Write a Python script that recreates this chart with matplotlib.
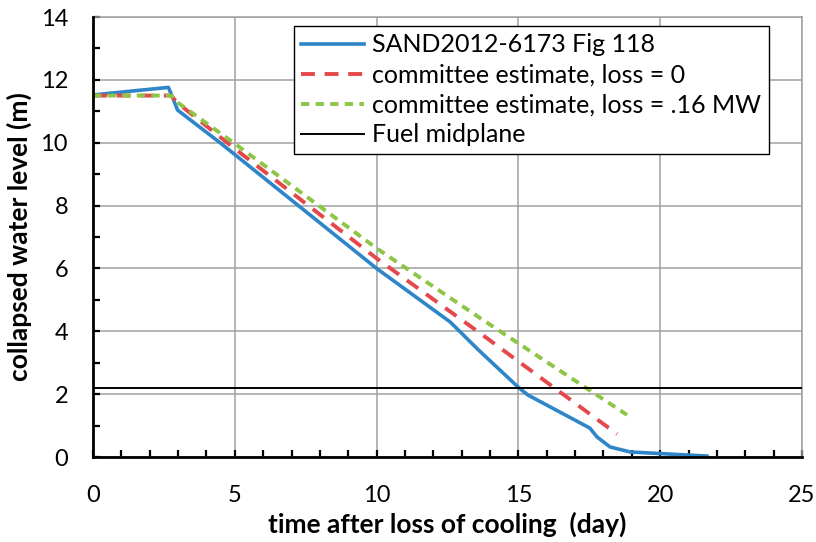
import matplotlib
matplotlib.use("Agg")
import matplotlib.pyplot as plt
from matplotlib.ticker import MultipleLocator

plt.rcParams['font.family'] = ['Lato', 'DejaVu Sans']
plt.rcParams['lines.scale_dashes'] = False

# SAND2012-6173 Fig 118
sand_t = [0.0, 2.66, 2.89, 2.98, 4.48, 10.0, 12.59, 13.6, 15.02, 15.34, 17.52, 17.77, 18.23, 18.94, 21.65]
sand_h = [11.52, 11.76, 11.25, 11.04, 10.0, 6.0, 4.3, 3.4, 2.2, 1.97, 0.92, 0.64, 0.32, 0.16, 0.03]

# committee estimate, loss = 0
est0_t = [0.0, 2.75, 3.0, 5.0, 10.0, 13.65, 18.48]
est0_h = [11.5, 11.5, 11.25, 9.81, 6.32, 3.94, 0.73]

# committee estimate, loss = .16 MW
est16_t = [0.0, 2.75, 3.0, 5.0, 10.0, 13.65, 18.83]
est16_h = [11.5, 11.5, 11.27, 9.97, 6.64, 4.42, 1.34]

# Fuel midplane
midplane_t = [0, 25]
midplane_h = [2.2, 2.2]

fig = plt.figure(figsize=(8.16, 5.42), dpi=100)
ax = fig.add_axes([93/816, 1-457/542, (802-93)/816, (457-17)/542])

ax.plot(sand_t, sand_h, color='#2E86C8', lw=2.6, label='SAND2012-6173 Fig 118', zorder=3)
ax.plot(est0_t, est0_h, color='#E5484A', lw=2.8, dashes=(10, 7), label='committee estimate, loss = 0', zorder=4)
ax.plot(est16_t, est16_h, color='#8DC545', lw=2.8, dashes=(6, 4.5), label='committee estimate, loss = .16 MW', zorder=5)
ax.plot(midplane_t, midplane_h, color='black', lw=1.4, label='Fuel midplane', zorder=6)

ax.set_xlim(0, 25)
ax.set_ylim(0, 14)
ax.xaxis.set_major_locator(MultipleLocator(5))
ax.xaxis.set_minor_locator(MultipleLocator(1))
ax.yaxis.set_major_locator(MultipleLocator(2))
ax.yaxis.set_minor_locator(MultipleLocator(1))

ax.grid(True, which='major', color='#A0A0A0', lw=1.1)
ax.set_axisbelow(True)
for s in ['top', 'right']:
    ax.spines[s].set_color('#A0A0A0')
    ax.spines[s].set_linewidth(1.1)
for s in ['left', 'bottom']:
    ax.spines[s].set_color('black')
    ax.spines[s].set_linewidth(2.0)
    ax.spines[s].set_zorder(7)

ax.tick_params(which='both', direction='in', length=5, width=1.6, color='black',
               top=False, right=False)
ax.tick_params(axis='both', which='major', labelsize=17)
ax.tick_params(axis='x', which='major', pad=20)
ax.tick_params(axis='y', which='major', pad=18)

ax.set_xlabel('time after loss of cooling  (day)', fontsize=19, fontweight='bold', labelpad=4)
ax.set_ylabel('collapsed water level (m)', fontsize=19, fontweight='bold', labelpad=6)

leg = ax.legend(loc='upper left', bbox_to_anchor=(0.283, 0.98), borderaxespad=0,
                fontsize=18, frameon=True, fancybox=False, framealpha=1,
                edgecolor='black', handlelength=2.5, handletextpad=0.35,
                borderpad=0.3, labelspacing=0.28)
leg.get_frame().set_linewidth(1.0)
leg.set_zorder(10)

fig.savefig('out.png', dpi=100)
